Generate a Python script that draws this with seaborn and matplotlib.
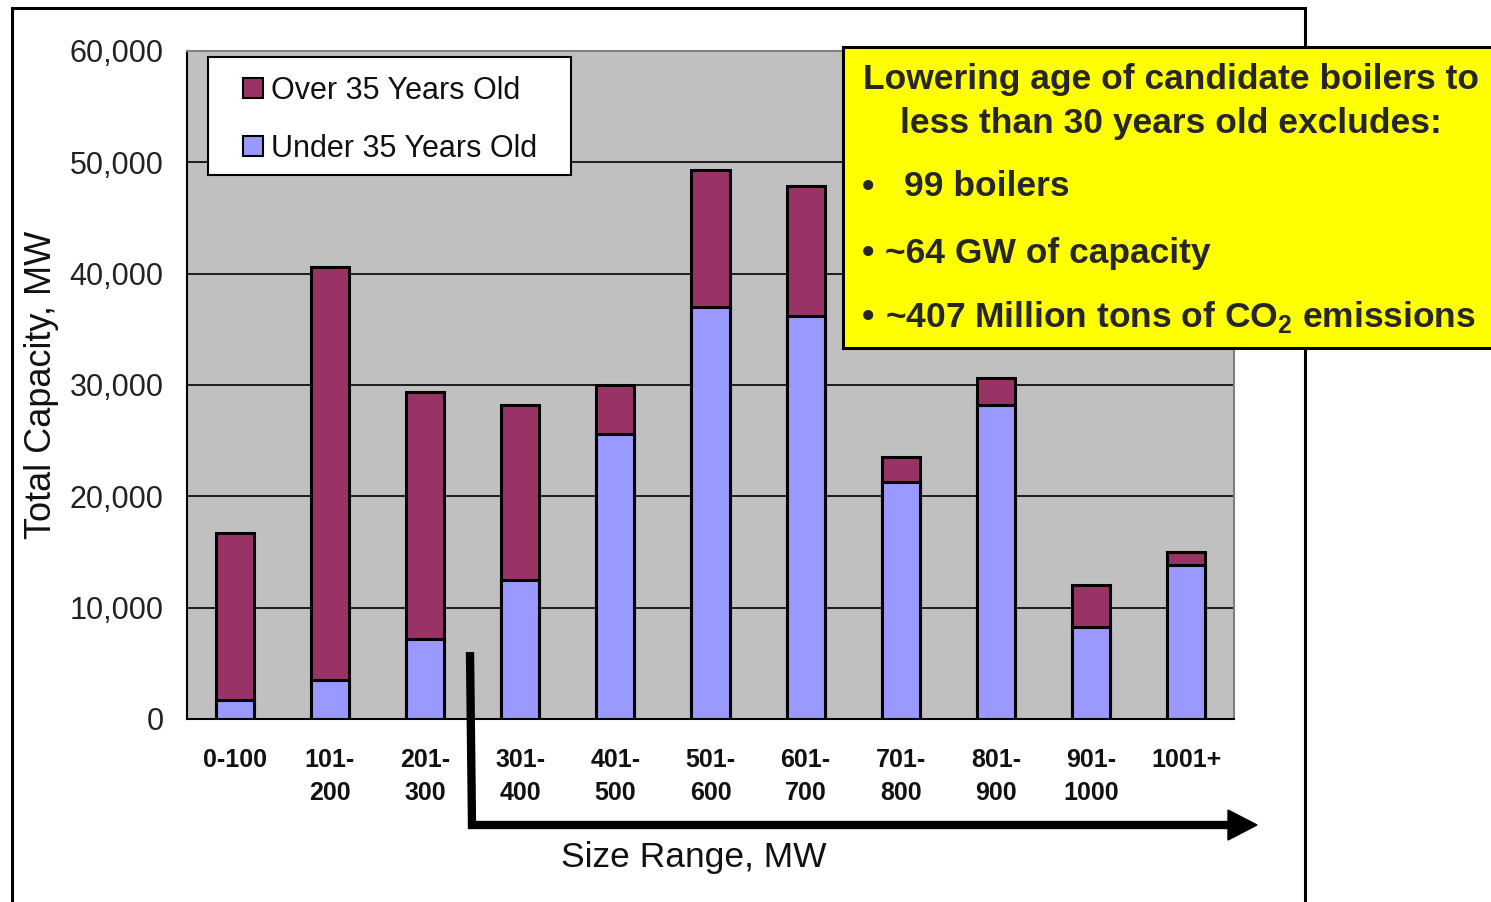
import matplotlib
matplotlib.use("Agg")
import matplotlib.pyplot as plt
from matplotlib.patches import Rectangle, Patch, Polygon
from matplotlib.lines import Line2D
import seaborn as sns
import pandas as pd

# Boiler capacity by unit size range (MW)
size_ranges = ["0-100", "101-200", "201-300", "301-400", "401-500", "501-600",
               "601-700", "701-800", "801-900", "901-1000", "1001+"]
tick_labels = ["0-100", "101-\n200", "201-\n300", "301-\n400", "401-\n500", "501-\n600",
               "601-\n700", "701-\n800", "801-\n900", "901-\n1000", "1001+"]
under_35 = [1700, 3500, 7200, 12500, 25600, 37000, 36200, 21300, 28200, 8300, 13800]
over_35 = [15000, 37100, 22200, 15700, 4400, 12300, 11700, 2200, 2400, 3700, 1200]
y_ticks = [0, 10000, 20000, 30000, 40000, 50000, 60000]

total = [u + o for u, o in zip(under_35, over_35)]
df = pd.DataFrame({"size": size_ranges, "under": under_35, "total": total})

MAROON = "#993366"
PERI = "#9999FF"
GREY = "#C0C0C0"

sns.set_style("white")
plt.rcParams["font.family"] = ["Liberation Sans", "DejaVu Sans"]
plt.rcParams["mathtext.fontset"] = "custom"
plt.rcParams["mathtext.rm"] = "Liberation Sans:bold"
plt.rcParams["mathtext.bf"] = "Liberation Sans:bold"

W, H = 1491, 902
fig = plt.figure(figsize=(14.91, 9.02), dpi=100)
ax = fig.add_axes([187 / W, 1 - 719 / H, (1234 - 187) / W, (719 - 51) / H])
ax.set_facecolor(GREY)

# Outer chart frame
fig.patches.append(Rectangle((12 / W, -0.05), 1293 / W, 1.05 - 8 / H,
                             transform=fig.transFigure, fill=False,
                             edgecolor="black", lw=2.2, zorder=0))

# Stacked bars: full height in maroon, younger share drawn over it
sns.barplot(data=df, x="size", y="total", color=MAROON, saturation=1,
            width=0.4, edgecolor="black", linewidth=2.2, ax=ax, zorder=3)
sns.barplot(data=df, x="size", y="under", color=PERI, saturation=1,
            width=0.4, edgecolor="black", linewidth=2.2, ax=ax, zorder=4)

ax.set_xlim(-0.5, len(size_ranges) - 0.5)
ax.set_ylim(0, 60000)
ax.set_yticks(y_ticks)
ax.set_yticklabels([f"{v:,}" for v in y_ticks], fontsize=22, color="#222222")
ax.yaxis.grid(True, color="black", lw=1.2, zorder=1)
ax.set_axisbelow(True)

ax.set_xticks(range(len(size_ranges)))
ax.set_xticklabels(tick_labels, fontsize=18, fontweight="bold", linespacing=1.45,
                   color="#111111")
ax.set_xticks([i - 0.5 for i in range(len(size_ranges) + 1)], minor=True)
ax.tick_params(axis="x", which="major", length=0, pad=21)
ax.tick_params(axis="x", which="minor", length=9, width=1.3, direction="out", color="black")
ax.tick_params(axis="y", length=9, width=1.3, direction="out", color="black", pad=8)

ax.set_xlabel("Size Range, MW", fontsize=25.5, color="#111111")
ax.xaxis.set_label_coords((694 - 187) / 1047, (719 - 857) / 668)
ax.xaxis.label.set_va("center")
ax.set_ylabel("Total Capacity, MW", fontsize=26, color="#111111")
ax.yaxis.set_label_coords((42 - 187) / 1047, (719 - 385) / 668)
ax.yaxis.label.set_va("center")

for side in ["top", "right"]:
    ax.spines[side].set_color("#808080")
    ax.spines[side].set_linewidth(1.5)
for side in ["left", "bottom"]:
    ax.spines[side].set_color("black")
    ax.spines[side].set_linewidth(1.5)

# Legend: white box behind borderless legend entries
ax.add_patch(Rectangle(((208 - 187) / 1047, (719 - 175) / 668), 363 / 1047, 118 / 668,
                       transform=ax.transAxes, facecolor="white", edgecolor="black",
                       lw=1.5, zorder=6, clip_on=False))
handles = [Patch(facecolor=MAROON, edgecolor="black", lw=1.5, label="Over 35 Years Old"),
           Patch(facecolor=PERI, edgecolor="black", lw=1.5, label="Under 35 Years Old")]
leg = ax.legend(handles=handles, loc="upper left",
                bbox_to_anchor=((243 - 187) / 1047, (719 - 75.8) / 668),
                fontsize=22, frameon=False, handlelength=0.65, handleheight=0.65,
                handletextpad=0.28, labelspacing=0.915, borderpad=0,
                borderaxespad=0)
leg.set_zorder(7)
for t in leg.get_texts():
    t.set_color("#111111")

# Yellow call-out box
fig.patches.append(Rectangle((843 / W, 1 - 348 / H), 0.5, 301 / H,
                             transform=fig.transFigure, facecolor="#FFFF00",
                             edgecolor="black", lw=2.2, zorder=5))
fs = 25.5
fig.text(1171 / W, 1 - 80 / H, "Lowering age of candidate boilers to",
         ha="center", va="center", fontsize=fs, fontweight="bold", zorder=6)
fig.text(1171 / W, 1 - 123 / H, "less than 30 years old excludes:",
         ha="center", va="center", fontsize=fs, fontweight="bold", zorder=6)
bullets = [(187, 904, "99 boilers"),
           (253, 885, "~64 GW of capacity"),
           (317, 885, r"~407 Million tons of CO$_\mathbf{2}$ emissions")]
for ypx, xpx, txt in bullets:
    fig.text(862 / W, 1 - ypx / H, "•", ha="left", va="center",
             fontsize=fs, fontweight="bold", zorder=6)
    fig.text(xpx / W, 1 - ypx / H, txt, ha="left", va="center",
             fontsize=fs, fontweight="bold", zorder=6)

# Bent arrow marking the remaining size ranges
fig.lines.append(Line2D([470 / W, 472 / W, 1232 / W],
                        [1 - 652 / H, 1 - 825 / H, 1 - 825 / H],
                        transform=fig.transFigure, color="black", lw=6,
                        solid_joinstyle="miter", solid_capstyle="butt", zorder=7))
fig.patches.append(Polygon([(1228 / W, 1 - 810 / H), (1257 / W, 1 - 825 / H),
                            (1228 / W, 1 - 840 / H)], closed=True,
                           transform=fig.transFigure, facecolor="black",
                           edgecolor="black", zorder=7))

fig.savefig("out.png", dpi=100)
